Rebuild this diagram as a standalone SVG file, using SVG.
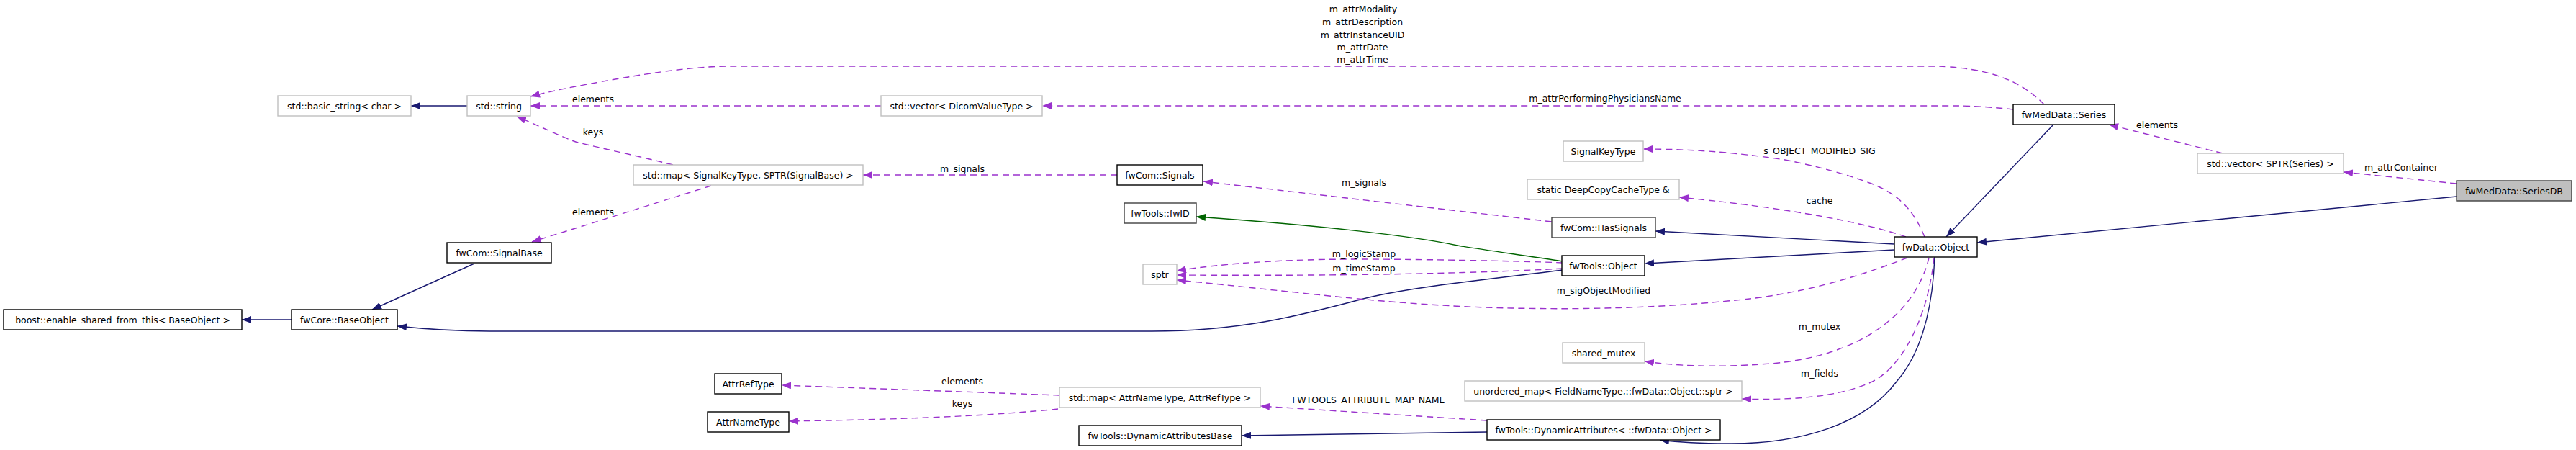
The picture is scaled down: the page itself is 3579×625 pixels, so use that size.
<svg xmlns="http://www.w3.org/2000/svg" width="3579" height="625" viewBox="0 0 3579 625">
<style>
text{font-family:"DejaVu Sans","Liberation Sans",sans-serif;font-size:12.5px;fill:#000;text-anchor:middle}
.n rect{fill:#fff;stroke:#000;stroke-width:1.4}
.g rect{stroke:#bfbfbf}
.d rect{stroke:#404040}
.s rect{fill:#bfbfbf;stroke:#404040}
.e path{fill:none;stroke-width:1.4}
.b{stroke:#191970}
.p{stroke:#9a32cd;stroke-dasharray:9,6}
.gr{stroke:#006400}
</style>
<defs>
<marker id="ab" markerUnits="userSpaceOnUse" markerWidth="14" markerHeight="10" refX="13" refY="5" orient="auto"><path d="M0,0 L13,5 L0,10 z" fill="#191970"/></marker>
<marker id="ap" markerUnits="userSpaceOnUse" markerWidth="14" markerHeight="10" refX="13" refY="5" orient="auto"><path d="M0,0 L13,5 L0,10 z" fill="#9a32cd"/></marker>
<marker id="ag" markerUnits="userSpaceOnUse" markerWidth="14" markerHeight="10" refX="13" refY="5" orient="auto"><path d="M0,0 L13,5 L0,10 z" fill="#006400"/></marker>
</defs>
<rect width="3579" height="625" fill="#fff"/>
<g id="edges" class="e">
<path class="b" marker-end="url(#ab)" d="M405,444 L336,444"/>
<path class="b" marker-end="url(#ab)" d="M659,366 L517,430"/>
<path class="b" marker-end="url(#ab)" d="M2171,375 C2050,390 1950,400 1890,416 C1800,440 1720,460 1600,460 L680,460 C630,460 590,457 552,453"/>
<path class="b" marker-end="url(#ab)" d="M649,147 L571,147"/>
<path class="p" marker-end="url(#ap)" d="M2840,145 C2810,115 2770,95 2693,92 L1010,92 C950,93 880,105 800,120 C780,124 760,128 737,134"/>
<path class="p" marker-end="url(#ap)" d="M2797,152 C2770,149 2740,147 2716,147 L1448,147"/>
<path class="p" marker-end="url(#ap)" d="M1224,147 L737,147"/>
<path class="p" marker-end="url(#ap)" d="M935,229 C880,215 830,205 800,197 C780,190 750,175 718,162"/>
<path class="p" marker-end="url(#ap)" d="M988,258 L739,336"/>
<path class="p" marker-end="url(#ap)" d="M1552,243 L1199,243"/>
<path class="p" marker-end="url(#ap)" d="M2156,308 L1672,252"/>
<path class="gr" marker-end="url(#ag)" d="M2171,363 C2120,355 2060,347 2025,341 C1960,327 1820,312 1662,301"/>
<path class="p" marker-end="url(#ap)" d="M2171,365 C2100,362 1960,360 1887,360 C1780,360 1700,366 1635,376"/>
<path class="p" marker-end="url(#ap)" d="M2171,373 C2000,382 1800,383 1635,382"/>
<path class="p" marker-end="url(#ap)" d="M2650,358 C2580,385 2500,410 2400,418 C2300,428 2200,430 2100,428 C2000,426 1900,417 1800,406 C1740,400 1680,393 1635,389"/>
<path class="p" marker-end="url(#ap)" d="M2674,329 C2660,295 2640,270 2600,255 C2560,240 2520,230 2480,222 C2400,210 2340,207 2283,207"/>
<path class="p" marker-end="url(#ap)" d="M2648,329 C2580,305 2450,285 2333,274"/>
<path class="b" marker-end="url(#ab)" d="M2632,339 L2300,321"/>
<path class="b" marker-end="url(#ab)" d="M2632,347 L2285,366"/>
<path class="p" marker-end="url(#ap)" d="M2680,358 C2660,440 2580,495 2460,505 C2380,511 2330,508 2285,502"/>
<path class="p" marker-end="url(#ap)" d="M2687,358 C2680,430 2650,500 2607,527 C2560,553 2480,556 2420,554"/>
<path class="b" marker-end="url(#ab)" d="M2688,357 C2685,430 2670,490 2635,530 C2590,590 2500,617 2400,616 C2360,616 2330,614 2306,611"/>
<path class="b" marker-end="url(#ab)" d="M2066,600 L1725,605"/>
<path class="p" marker-end="url(#ap)" d="M2066,584 L1751,564"/>
<path class="p" marker-end="url(#ap)" d="M1472,549 L1086,535"/>
<path class="p" marker-end="url(#ap)" d="M1470,568 C1400,575 1300,582 1096,585"/>
<path class="b" marker-end="url(#ab)" d="M3413,273 L2747,337"/>
<path class="p" marker-end="url(#ap)" d="M3413,255 L3256,239"/>
<path class="p" marker-end="url(#ap)" d="M3088,213 L2930,173"/>
<path class="b" marker-end="url(#ab)" d="M2853,173 L2704,329"/>
</g>
<g id="edge-labels">
<text x="1894" y="17">m_attrModality</text>
<text x="1893" y="35">m_attrDescription</text>
<text x="1893" y="52.5">m_attrInstanceUID</text>
<text x="1893" y="69.5">m_attrDate</text>
<text x="1893" y="87">m_attrTime</text>
<text x="2230" y="141">m_attrPerformingPhysiciansName</text>
<text x="824" y="141.5">elements</text>
<text x="824" y="187.5">keys</text>
<text x="824" y="298.5">elements</text>
<text x="1337" y="238.5">m_signals</text>
<text x="1895" y="258">m_signals</text>
<text x="1895" y="356.5">m_logicStamp</text>
<text x="1895" y="376.5">m_timeStamp</text>
<text x="2228" y="407.5">m_sigObjectModified</text>
<text x="2528" y="213.5">s_OBJECT_MODIFIED_SIG</text>
<text x="2528" y="283">cache</text>
<text x="2528" y="457.5">m_mutex</text>
<text x="2528" y="522.5">m_fields</text>
<text x="1895" y="559.5">__FWTOOLS_ATTRIBUTE_MAP_NAME</text>
<text x="1337" y="533.5">elements</text>
<text x="1337" y="564.5">keys</text>
<text x="2997" y="177.5">elements</text>
<text x="3336" y="236.5">m_attrContainer</text>
</g>
<g id="n_boost" class="n"><rect x="5" y="430" width="331" height="28"/><text x="170.5" y="448.5">boost::enable_shared_from_this&lt; BaseObject &gt;</text></g>
<g id="n_baseobject" class="n"><rect x="405" y="430" width="147" height="28"/><text x="478.5" y="448.5">fwCore::BaseObject</text></g>
<g id="n_signalbase" class="n"><rect x="621" y="337" width="145" height="28"/><text x="693.5" y="355.5">fwCom::SignalBase</text></g>
<g id="n_basic_string" class="n g"><rect x="386" y="133" width="185" height="28"/><text x="478.5" y="151.5">std::basic_string&lt; char &gt;</text></g>
<g id="n_string" class="n g"><rect x="649" y="133" width="88" height="28"/><text x="693" y="151.5">std::string</text></g>
<g id="n_vector_dicom" class="n g"><rect x="1224" y="133" width="224" height="28"/><text x="1336" y="151.5">std::vector&lt; DicomValueType &gt;</text></g>
<g id="n_map_signals" class="n g"><rect x="880" y="229" width="319" height="28"/><text x="1039.5" y="247.5">std::map&lt; SignalKeyType, SPTR(SignalBase) &gt;</text></g>
<g id="n_signals" class="n"><rect x="1552" y="229" width="119" height="28"/><text x="1611.5" y="247.5">fwCom::Signals</text></g>
<g id="n_fwid" class="n d"><rect x="1562" y="282" width="100" height="28"/><text x="1612" y="300.5">fwTools::fwID</text></g>
<g id="n_sptr" class="n g"><rect x="1588" y="367" width="47" height="28"/><text x="1611.5" y="385.5">sptr</text></g>
<g id="n_attrreftype" class="n"><rect x="993" y="519" width="93" height="28"/><text x="1039.5" y="537.5">AttrRefType</text></g>
<g id="n_attrnametype" class="n"><rect x="983" y="572" width="113" height="28"/><text x="1039.5" y="590.5">AttrNameType</text></g>
<g id="n_map_attr" class="n g"><rect x="1472" y="538" width="279" height="28"/><text x="1611.5" y="556.5">std::map&lt; AttrNameType, AttrRefType &gt;</text></g>
<g id="n_dynattrbase" class="n"><rect x="1499" y="591" width="226" height="28"/><text x="1612" y="609.5">fwTools::DynamicAttributesBase</text></g>
<g id="n_signalkeytype" class="n g"><rect x="2172" y="196" width="111" height="28"/><text x="2227.5" y="214.5">SignalKeyType</text></g>
<g id="n_deepcopy" class="n g"><rect x="2122" y="249" width="211" height="28"/><text x="2227.5" y="267.5">static DeepCopyCacheType &amp;</text></g>
<g id="n_hassignals" class="n d"><rect x="2156" y="302" width="144" height="28"/><text x="2228" y="320.5">fwCom::HasSignals</text></g>
<g id="n_toolsobject" class="n"><rect x="2170" y="355" width="115" height="28"/><text x="2227.5" y="373.5">fwTools::Object</text></g>
<g id="n_shared_mutex" class="n g"><rect x="2171" y="476" width="114" height="28"/><text x="2228" y="494.5">shared_mutex</text></g>
<g id="n_unordered_map" class="n g"><rect x="2035" y="529" width="385" height="28"/><text x="2227.5" y="547.5">unordered_map&lt; FieldNameType,::fwData::Object::sptr &gt;</text></g>
<g id="n_dynattr" class="n"><rect x="2066" y="583" width="324" height="28"/><text x="2228" y="601.5">fwTools::DynamicAttributes&lt; ::fwData::Object &gt;</text></g>
<g id="n_series" class="n"><rect x="2797" y="145" width="141" height="28"/><text x="2867.5" y="163.5">fwMedData::Series</text></g>
<g id="n_vector_series" class="n g"><rect x="3053" y="213" width="203" height="28"/><text x="3154.5" y="231.5">std::vector&lt; SPTR(Series) &gt;</text></g>
<g id="n_seriesdb" class="n s"><rect x="3413" y="251" width="160" height="28"/><text x="3493" y="269.5">fwMedData::SeriesDB</text></g>
<g id="n_dataobject" class="n"><rect x="2632" y="329" width="115" height="28"/><text x="2689.5" y="347.5">fwData::Object</text></g>
</svg>
